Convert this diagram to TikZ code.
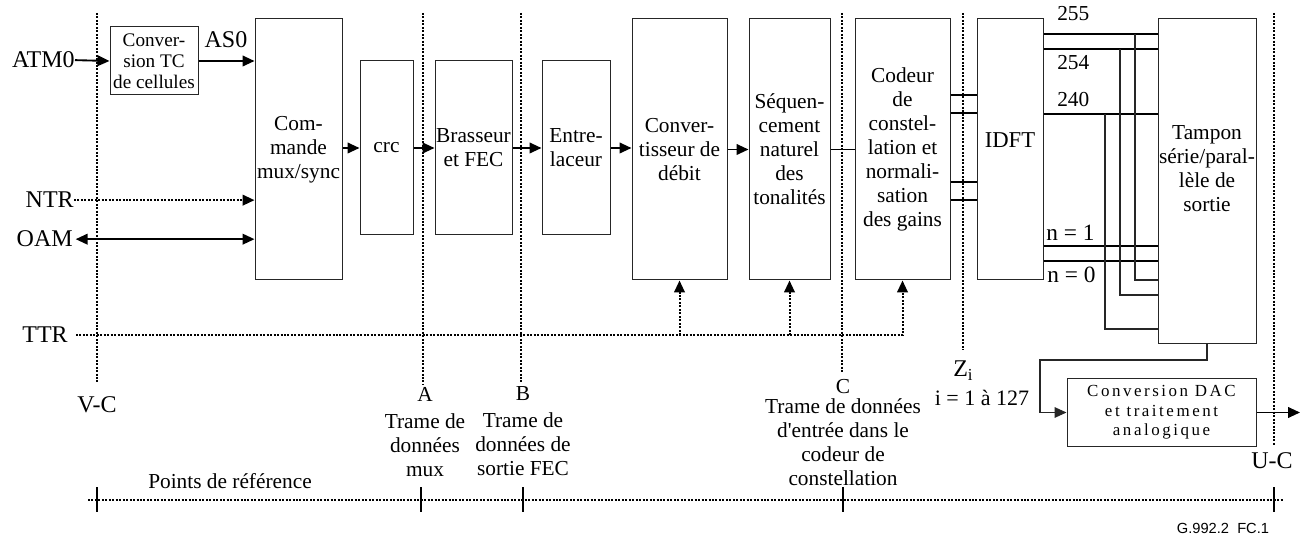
\documentclass[tikz,border=0pt]{standalone}
\usepackage{fontspec}
\setmainfont{Liberation Serif}
\newfontfamily\sansf{Liberation Sans}
\newfontfamily\straight{Liberation Serif}[Ligatures=TeXOff]
\newfontfamily\dacfont[LetterSpace=15]{Liberation Serif}
\usetikzlibrary{arrows.meta}
\begin{document}
\begin{tikzpicture}[x=0.75pt,y=-0.75pt,
  >={Triangle[length=9pt,width=8pt]},
  every node/.style={font=\fontsize{16}{18}\selectfont},
  big/.style={font=\fontsize{18}{20}\selectfont},
  blk/.style n args={2}{draw=black!85, line width=0.75pt, minimum width=#1*0.75pt, minimum height=#2*0.75pt, inner sep=0pt, align=center},
  conn/.style={line width=1.4pt},
  dotl/.style={line width=1.5pt, dash pattern=on 1.5pt off 1.1pt},
  thinl/.style={line width=0.8pt, draw=black!85},
  lbl/.style={inner sep=0pt},
  tick/.style={line width=1.4pt}
]
\useasboundingbox (0,0) rectangle (1300,538);

% blocks
\node[blk={88}{68}, font=\fontsize{14.4}{15.8}\selectfont] (tc) at (154,61) {Conver-\\sion TC\\de cellules};
\node[blk={87}{261}] (mux) at (298.5,149.5) {Com-\\mande\\mux/sync};
\node[blk={53}{174}] (crc) at (386.5,148) {crc};
\node[blk={77}{174}] (fec) at (473.5,148) {Brasseur\\et FEC};
\node[blk={68}{174}] (ilv) at (576,148) {Entre-\\laceur};
\node[blk={95}{261}] (rate) at (679.5,149.5) {Conver-\\tisseur de\\débit};
\node[blk={81}{261}] (seq) at (789.5,149.5) {Séquen-\\cement\\naturel\\des\\tonalités};
\node[blk={95}{261}] (enc) at (902.5,149.5) {Codeur\\de\\constel-\\lation et\\normali-\\sation\\des gains};
\node[blk={66}{261}] (idft) at (1010,149.5) {};
\node[lbl, font=\fontsize{17}{18}\selectfont] (idftt) at (1010,140) {IDFT};
\node[blk={98}{325}] (buf) at (1207,181.5) {};
\node[lbl, align=center] (buft) at (1207,169) {Tampon\\série/paral-\\lèle de\\sortie};
\node[blk={189}{67}, font=\dacfont\fontsize{12.7}{14.6}\selectfont] (dac) at (1161.5,412.5) {Conversion DAC\\et traitement\\analogique};

% signal labels
\node[lbl, big, anchor=base east] (atm) at (75,68) {ATM0};
\node[lbl, big, anchor=base] (as0) at (226,48) {AS0};
\node[lbl, big, anchor=base east] (ntr) at (74,208) {NTR};
\node[lbl, big, anchor=base east] (oam) at (73,247) {OAM};
\node[lbl, big, anchor=base east] (ttr) at (68,343) {TTR};

% reference lines
\coordinate (vcT) at (97,13);  \coordinate (vcB) at (97,382);
\coordinate (aT) at (423,13);  \coordinate (aB) at (423,385);
\coordinate (bT) at (521,13);  \coordinate (bB) at (521,382);
\coordinate (cT) at (842,13);  \coordinate (cB) at (842,372);
\coordinate (zT) at (963,13);  \coordinate (zB) at (963,350);
\coordinate (uT) at (1274,13); \coordinate (uB) at (1274,445);
\draw[dotl] (vcT) -- (vcB);
\draw[dotl] (aT) -- (aB);
\draw[dotl] (bT) -- (bB);
\draw[dotl] (cT) -- (cB);
\draw[dotl] (zT) -- (zB);
\draw[dotl] (uT) -- (uB);

% reference labels
\node[lbl, big, anchor=base] (vc) at (97,412) {V-C};
\node[lbl, anchor=base] (pa) at (425,402) {A};
\node[lbl, anchor=north, align=center] (pat) at (425,413) {Trame de\\données\\mux};
\node[lbl, anchor=base] (pb) at (523,400) {B};
\node[lbl, anchor=north, align=center] (pbt) at (523,412) {Trame de\\données de\\sortie FEC};
\node[lbl, anchor=base] (pc) at (843,393) {C};
\node[lbl, anchor=north, align=center] (pct) at (843,398) {Trame de données\\d{\straight'}entrée dans le\\codeur de\\constellation};
\node[lbl, big, anchor=base west] (pz) at (953,377) {Z\textsubscript{i}};
\node[lbl, font=\fontsize{16.5}{18}\selectfont, anchor=base] (pzt) at (982,405) {i = 1 à 127};
\node[lbl, big, anchor=base] (uc) at (1272,468) {U-C};
\node[lbl, anchor=base] (pref) at (230,488) {Points de référence};
\node[lbl, anchor=base, font=\sansf\fontsize{11}{13}\selectfont] (fig) at (1223,533) {G.992.2\ \ FC.1};

% bottom axis
\coordinate (axL) at (88,500); \coordinate (axR) at (1283,500);
\draw[dotl] (axL) -- (axR);
\foreach \x in {97,421,523,843,1274} \draw[tick] (\x,487) -- (\x,512);

% main connectors
\draw[conn,->] (atm.east) -- (tc.west);
\draw[conn,->] (tc.east) -- (mux.west |- tc.east);
\draw[dotl,->] (ntr.east) -- (mux.west |- ntr.east);
\draw[conn,<->] ([xshift=2pt]oam.east) -- (mux.west |- oam.east);
\draw[conn,->] (mux.east |- crc.west) -- (crc.west);
\draw[conn,->] (crc.east) -- (fec.west);
\draw[conn,->] (fec.east) -- (ilv.west);
\draw[conn,->] (ilv.east) -- (rate.west |- ilv.east);
\draw[conn,->] (rate.east) -- (seq.west);
\draw[conn] (seq.east) -- (enc.west);

% TTR
\draw[dotl,->] ([xshift=6pt]ttr.east) -| (enc.south);
\draw[dotl,->] (rate.south |- ttr.east) -- (rate.south);
\draw[dotl,->] (seq.south |- ttr.east) -- (seq.south);

% encoder to IDFT
\foreach \y [count=\i] in {95,113,182,200} \coordinate (ey\i) at (0,\y);
\foreach \i in {1,...,4} \draw[conn] (enc.east |- ey\i) -- (idft.west |- ey\i);

% IDFT to buffer
\coordinate (h255) at (0,34);
\coordinate (h254) at (0,49);
\coordinate (h240) at (0,114);
\coordinate (h1) at (0,246);
\coordinate (h0) at (0,261);
\foreach \h in {h255,h254,h240,h1,h0} \draw[conn] (idft.east |- \h) -- (buf.west |- \h);
\node[lbl, anchor=base west] (l255) at (1057,21) {255};
\node[lbl, anchor=base west] (l254) at (1057,70) {254};
\node[lbl, anchor=base west] (l240) at (1057,107) {240};
\node[lbl, font=\fontsize{17.5}{18}\selectfont, anchor=base west] (l1) at (1046,241) {n = 1};
\node[lbl, font=\fontsize{17.5}{18}\selectfont, anchor=base west] (l0) at (1047,283) {n = 0};

\coordinate (v1) at (1135,34);  \coordinate (v1b) at (1135,280);
\coordinate (v2) at (1120,49);  \coordinate (v2b) at (1120,295);
\coordinate (v3) at (1105,114); \coordinate (v3b) at (1105,329);
\draw[thinl] (v1) -- (v1b) -- (buf.west |- v1b);
\draw[thinl] (v2) -- (v2b) -- (buf.west |- v2b);
\draw[thinl] (v3) -- (v3b) -- (buf.west |- v3b);

% buffer to DAC
\coordinate (d1) at (1207,360);
\coordinate (d2) at (1040,360);
\coordinate (d3) at (1040,412.5);
\draw[thinl,->] (buf.south) -- (d1) -- (d2) -- (d3) -- (dac.west);
\coordinate (out) at (1300,412.5);
\draw[conn,->] (dac.east) -- (out);
\end{tikzpicture}
\end{document}
